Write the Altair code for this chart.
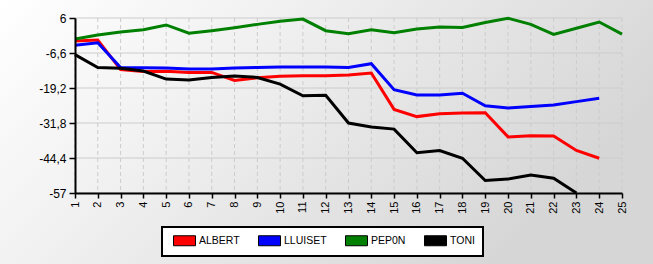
import altair as alt
import pandas as pd

rounds = list(range(1, 26))
names = ["ALBERT", "LLUISET", "PEP0N", "TONI"]
colors = ["#ff0000", "#0000ff", "#008000", "#000000"]
albert = [-2.3, -1.9, -12.6, -13.3, -13.2, -13.6, -13.6, -16.5, -15.5, -15.0, -14.8, -14.8,
          -14.5, -13.8, -26.9, -29.5, -28.5, -28.2, -28.1, -36.8, -36.4, -36.5, -41.7, -44.5]
lluiset = [-3.85, -2.9, -11.8, -11.9, -12.0, -12.4, -12.4, -12.0, -11.8, -11.65, -11.65, -11.65,
           -11.8, -10.45, -19.8, -21.7, -21.7, -21.1, -25.6, -26.4, -25.9, -25.3, -24.1, -22.9]
pepon = [-1.56, -0.1, 0.96, 1.8, 3.5, 0.5, 1.43, 2.5, 3.7, 4.8, 5.6, 1.43, 0.35, 1.8, 0.7,
         2.0, 2.75, 2.6, 4.4, 5.9, 3.7, 0.1, 2.3, 4.55, 0.2]
toni = [-7.2, -11.8, -12.1, -13.1, -16.0, -16.3, -15.4, -14.9, -15.4, -17.8, -22.0, -21.8,
        -31.8, -33.2, -34.0, -42.5, -41.7, -44.5, -52.5, -52.0, -50.5, -51.7, -57.0]
y_ticks = [6, -6.6, -19.2, -31.8, -44.4, -57]

rows = []
for name, vals in zip(names, [albert, lluiset, pepon, toni]):
    for r, v in zip(rounds, vals):
        rows.append({"round": r, "value": v, "player": name, "who": name})
df = pd.DataFrame(rows)

W, H = 547, 175
PL, PT, PR, PB = 75, 18, 31, 71

xscale = alt.Scale(domain=[1, 25], nice=False, zero=False)
yscale = alt.Scale(domain=[-57, 6], nice=False, zero=False)
xaxis = alt.Axis(values=rounds, labelAngle=270, title=None, grid=False, tickSize=5,
                 labelPadding=3, labelFontSize=11, zindex=1)
yaxis = alt.Axis(values=y_ticks, title=None, grid=False, tickSize=6, labelPadding=3,
                 labelFontSize=12, zindex=1,
                 labelExpr="replace(toString(datum.value), '.', ',')")

bg = alt.Chart(alt.Data(values=[{"a": 1}])).mark_rect(
    clip=False,
    fill=alt.LinearGradient(
        gradient="linear",
        stops=[alt.GradientStop(color="#ffffff", offset=0),
               alt.GradientStop(color="#f2f2f2", offset=0.35),
               alt.GradientStop(color="#d6d6d6", offset=1)],
        x1=0, y1=0, x2=1, y2=0.4),
).encode(x=alt.value(-PL), x2=alt.value(W + PR), y=alt.value(-PT), y2=alt.value(H + PB))

ygrid = alt.Chart(pd.DataFrame({"value": y_ticks})).mark_rule(
    color="#cccccc", strokeWidth=1
).encode(y=alt.Y("value:Q", scale=yscale, axis=yaxis))

xgrid = alt.Chart(pd.DataFrame({"round": rounds})).mark_rule(
    color="#cccccc", strokeWidth=1, strokeDash=[4, 3]
).encode(x=alt.X("round:Q", scale=xscale, axis=xaxis))

# stroke scale: data-driven domain (alphabetical = names order)
lines = alt.Chart(df).mark_line(strokeWidth=3).encode(
    x=alt.X("round:Q", scale=xscale, axis=xaxis),
    y=alt.Y("value:Q", scale=yscale, axis=yaxis),
    stroke=alt.Stroke("player:N", scale=alt.Scale(range=colors), legend=None),
)

legend_layer = alt.Chart(df).mark_square(filled=True, size=0, opacity=1).encode(
    x=alt.X("round:Q", scale=xscale, axis=xaxis),
    y=alt.Y("value:Q", scale=yscale, axis=yaxis),
    fill=alt.Fill("who:N", scale=alt.Scale(domain=names, range=colors),
                  legend=alt.Legend(
                      orient="none", legendX=87, legendY=209, direction="horizontal",
                      title=None, fillColor="white", strokeColor="black", padding=8,
                      columnPadding=15, zindex=2,
                      symbolType="M-2.2,-1L2.2,-1L2.2,1L-2.2,1Z",
                      symbolSize=100, symbolOffset=9, symbolStrokeColor="black",
                      symbolStrokeWidth=1, symbolOpacity=1,
                      labelFont="Liberation Sans", labelFontSize=10.5,
                      labelColor="black", labelOffset=9)),
)

chart = alt.layer(bg, ygrid, xgrid, lines, legend_layer).properties(
    width=W, height=H,
    autosize=alt.AutoSizeParams(type="none"),
    padding={"left": PL, "top": PT, "right": PR, "bottom": PB},
    background="white",
).configure_view(stroke=None).configure_axis(
    labelFont="Liberation Sans", labelColor="black", domainColor="black", domainWidth=2,
    tickColor="black", tickWidth=1.5,
).configure_legend(strokeWidth=2)

chart.save("out.html", embed_options={"renderer": "svg", "actions": False})
